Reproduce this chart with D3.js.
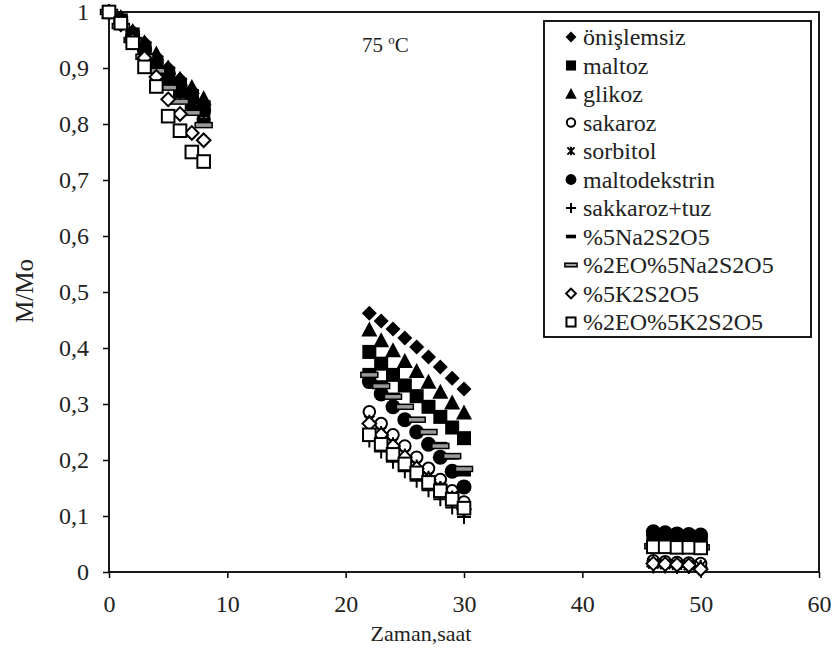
<!DOCTYPE html>
<html><head><meta charset="utf-8">
<script src="https://cdn.jsdelivr.net/npm/d3@7"></script>
<style>body{margin:0;background:#fff}</style>
</head><body><svg id="c" width="833" height="648"></svg>
<script>
const hours = [0,1,2,3,4,5,6,7,8, 22,23,24,25,26,27,28,29,30, 46,47,48,49,50];
const seriesNames = ["önişlemsiz","maltoz","glikoz","sakaroz","sorbitol","maltodekstrin","sakkaroz+tuz","%5Na2S2O5","%2EO%5Na2S2O5","%5K2S2O5","%2EO%5K2S2O5"];
const onislemsiz   = [1,0.985,0.965,0.945,0.92,0.90,0.88,0.86,0.835, 0.462,0.448,0.434,0.418,0.402,0.384,0.366,0.346,0.327, 0.065,0.063,0.062,0.061,0.060];
const maltoz       = [1,0.985,0.96,0.935,0.91,0.89,0.87,0.85,0.83, 0.393,0.372,0.352,0.333,0.314,0.295,0.277,0.258,0.239, 0.060,0.058,0.057,0.056,0.055];
const glikoz       = [1,0.99,0.965,0.945,0.925,0.90,0.88,0.865,0.845, 0.432,0.413,0.395,0.376,0.358,0.339,0.321,0.302,0.284, 0.062,0.060,0.059,0.058,0.057];
const sakaroz      = [1,0.98,0.955,0.93,0.905,0.88,0.86,0.835,0.815, 0.286,0.265,0.245,0.225,0.205,0.185,0.165,0.145,0.125, 0.020,0.018,0.017,0.016,0.015];
const sorbitol     = [1,0.98,0.955,0.93,0.905,0.885,0.86,0.84,0.82, 0.270,0.250,0.230,0.210,0.190,0.170,0.152,0.135,0.115, 0.015,0.014,0.013,0.012,0.011];
const maltodekstrin= [1,0.985,0.96,0.935,0.91,0.89,0.865,0.845,0.825, 0.340,0.318,0.295,0.272,0.250,0.228,0.205,0.180,0.152, 0.072,0.070,0.068,0.067,0.066];
const sakkarozTuz  = [1,0.98,0.955,0.93,0.90,0.875,0.855,0.83,0.81, 0.235,0.215,0.197,0.180,0.163,0.146,0.130,0.115,0.098, 0.010,0.010,0.009,0.009,0.008];
const na2s2o5      = [1,0.98,0.955,0.93,0.90,0.875,0.85,0.83,0.805, 0.360,0.338,0.316,0.294,0.272,0.250,0.228,0.205,0.175, 0.040,0.039,0.038,0.038,0.037];
const eoNa2s2o5    = [1,0.975,0.95,0.92,0.895,0.865,0.84,0.82,0.798, 0.352,0.332,0.313,0.295,0.272,0.250,0.225,0.207,0.184, 0.046,0.046,0.045,0.045,0.044];
const k2s2o5       = [1,0.978,0.95,0.918,0.884,0.844,0.818,0.784,0.771, 0.265,0.245,0.225,0.205,0.185,0.165,0.148,0.130,0.112, 0.015,0.014,0.013,0.012,0.005];
const eoK2s2o5     = [1,0.98,0.945,0.902,0.867,0.814,0.788,0.75,0.733, 0.245,0.228,0.210,0.193,0.177,0.160,0.145,0.130,0.114, 0.045,0.045,0.044,0.044,0.043];
const xTicks = [0,10,20,30,40,50,60];
const yTicks = [0,0.1,0.2,0.3,0.4,0.5,0.6,0.7,0.8,0.9,1];
const yTickLabels = ["0","0,1","0,2","0,3","0,4","0,5","0,6","0,7","0,8","0,9","1"];

const seriesValues = [onislemsiz,maltoz,glikoz,sakaroz,sorbitol,maltodekstrin,sakkarozTuz,na2s2o5,eoNa2s2o5,k2s2o5,eoK2s2o5];
const markerTypes = ["diamondF","squareF","triangleF","circleO","star","circleF","plus","dashF","dashO","diamondO","squareO"];

const FONT = "'Liberation Serif','Times New Roman',serif";
const svg = d3.select("#c");
const L = 109, R = 819, T = 12, B = 572;
const x = d3.scaleLinear().domain([0,60]).range([L,R]);
const y = d3.scaleLinear().domain([0,1]).range([B,T]);

// axes
const ya = svg.append("g").attr("transform",`translate(${L},0)`)
  .call(d3.axisLeft(y).tickValues(yTicks).tickFormat((d,i)=>yTickLabels[i]).tickSize(6).tickPadding(14));
const xa = svg.append("g").attr("transform",`translate(0,${B})`)
  .call(d3.axisBottom(x).tickValues(xTicks).tickFormat(d3.format("d")).tickSize(6).tickPadding(17));
[ya,xa].forEach(a=>{
  a.select(".domain").remove();
  a.selectAll("line").attr("stroke","#000").attr("stroke-width",1.5);
  a.selectAll("text").attr("font-family",FONT).attr("font-size",24).attr("fill","#222");
});
svg.append("rect").attr("x",L).attr("y",T).attr("width",R-L).attr("height",B-T)
  .attr("fill","none").attr("stroke","#000").attr("stroke-width",1.8);

// titles
svg.append("text").attr("x",421).attr("y",641).attr("text-anchor","middle")
  .attr("font-family",FONT).attr("font-size",22).attr("fill","#222").text("Zaman,saat");
svg.append("text").attr("transform","translate(33,291) rotate(-90)").attr("text-anchor","middle")
  .attr("font-family",FONT).attr("font-size",25).attr("fill","#222").text("M/Mo");
const tt = svg.append("text").attr("x",362).attr("y",52).attr("font-family",FONT).attr("font-size",21).attr("fill","#222");
tt.append("tspan").text("75 ");
tt.append("tspan").attr("font-size",13).attr("dy",-8).text("o");
tt.append("tspan").attr("dy",8).text("C");

function marker(g, type, k){
  switch(type){
    case "diamondF": g.append("path").attr("d",`M0,${-7.5*k}L${7.5*k},0L0,${7.5*k}L${-7.5*k},0Z`).attr("fill","#000"); break;
    case "squareF": g.append("rect").attr("x",-7*k).attr("y",-7*k).attr("width",14*k).attr("height",14*k).attr("fill","#000"); break;
    case "triangleF": g.append("path").attr("d",`M0,${-8.5*k}L${8*k},${6.5*k}L${-8*k},${6.5*k}Z`).attr("fill","#000"); break;
    case "circleO": g.append("circle").attr("r",5.8*k).attr("fill","#fff").attr("stroke","#000").attr("stroke-width",2); break;
    case "star": g.append("path").attr("d",`M${-5*k},${-5*k}L${5*k},${5*k}M${5*k},${-5*k}L${-5*k},${5*k}M0,${-6*k}L0,${6*k}`).attr("stroke","#000").attr("stroke-width",2).attr("fill","none"); break;
    case "circleF": g.append("circle").attr("r",7.5*k).attr("fill","#000"); break;
    case "plus": g.append("path").attr("d",`M${-7*k},0L${7*k},0M0,${-7*k}L0,${7*k}`).attr("stroke","#000").attr("stroke-width",2).attr("fill","none"); break;
    case "dashF": g.append("rect").attr("x",-7*k).attr("y",-2.5*k).attr("width",14*k).attr("height",5*k).attr("fill","#000"); break;
    case "dashO": g.append("rect").attr("x",-8.5*k).attr("y",-2.5*k).attr("width",17*k).attr("height",5*k).attr("fill","#9a9a9a").attr("stroke","#000").attr("stroke-width",1.5); break;
    case "diamondO": g.append("path").attr("d",`M0,${-6.8*k}L${6.8*k},0L0,${6.8*k}L${-6.8*k},0Z`).attr("fill","#fff").attr("stroke","#000").attr("stroke-width",2); break;
    case "squareO": g.append("rect").attr("x",-6.3*k).attr("y",-6.3*k).attr("width",12.6*k).attr("height",12.6*k).attr("fill","#fff").attr("stroke","#000").attr("stroke-width",2); break;
  }
}

// data
seriesValues.forEach((vals,si)=>{
  const g = svg.append("g");
  vals.forEach((v,i)=>{
    const mg = g.append("g").attr("transform",`translate(${x(hours[i])},${y(v)})`);
    marker(mg, markerTypes[si], 1);
  });
});

// legend
const lg = svg.append("g");
lg.append("rect").attr("x",544).attr("y",21).attr("width",267).attr("height",316)
  .attr("fill","#fff").attr("stroke","#000").attr("stroke-width",1.8);
seriesNames.forEach((n,i)=>{
  const cy = 37 + i*28.5;
  const mg = lg.append("g").attr("transform",`translate(571,${cy})`);
  marker(mg, markerTypes[i], 0.72);
  lg.append("text").attr("x",583).attr("y",cy+8).attr("font-family",FONT).attr("font-size",24).attr("fill","#222").text(n);
});
</script></body></html>
